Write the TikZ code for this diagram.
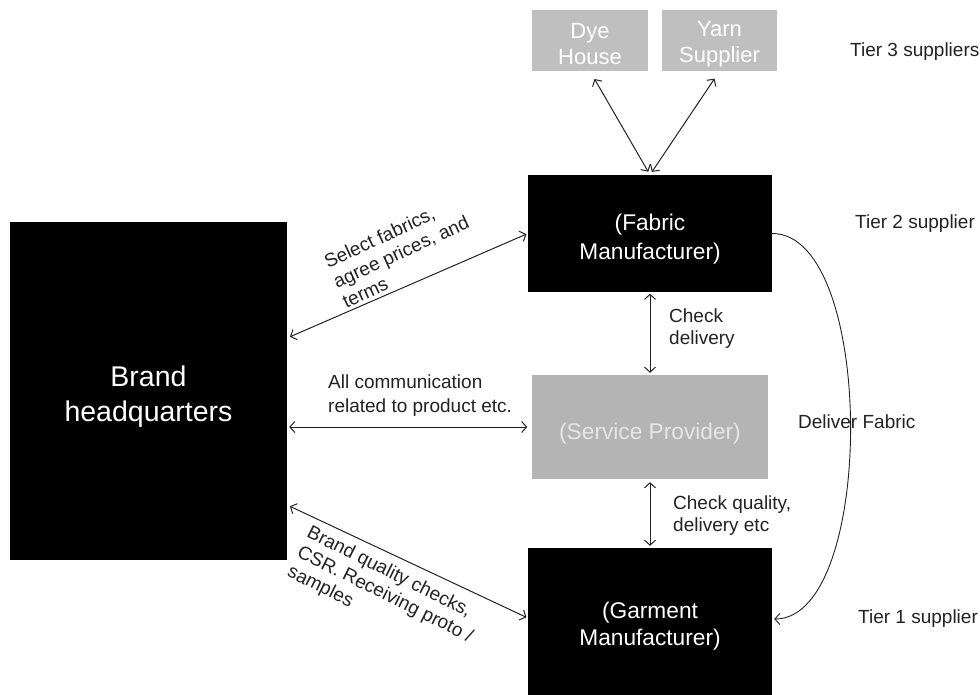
\documentclass[tikz,border=0pt]{standalone}
\usepackage{fontspec}
\setmainfont{Liberation Sans}
\usetikzlibrary{arrows.meta}
\definecolor{tiergray}{HTML}{BFBFBF}
\definecolor{svcgray}{HTML}{B4B4B4}
\definecolor{svctext}{HTML}{E6E6E6}
\definecolor{ink}{HTML}{222222}
\begin{document}
\begin{tikzpicture}[x=1pt,y=-1pt,
  darkbox/.style={draw=none,fill=black,inner sep=0pt},
  lightbox/.style={draw=none,fill=tiergray,inner sep=0pt},
  boxtext/.style={text=white,align=center,inner sep=0pt},
  lbl/.style={text=ink,align=left,inner sep=0pt,font=\fontsize{19}{22}\selectfont},
  tip/.tip={Straight Barb[length=5pt,width=11pt]},
  conn/.style={draw=ink,line width=1pt,tip-tip},
  oneway/.style={draw=ink,line width=0.9pt,-tip}]
\useasboundingbox (0,0) rectangle (980,695);
\clip (0,0) rectangle (980,695);

% boxes
\node[darkbox,minimum width=277pt,minimum height=338pt] (hq) at (148.5,391) {};
\node[boxtext,font=\fontsize{28.5}{35}\selectfont] (hqtxt) at (148.5,397) {Brand\\headquarters};

\node[lightbox,minimum width=116pt,minimum height=61pt] (dye) at (590,40.5) {};
\node[boxtext,font=\fontsize{22}{26}\selectfont] (dyetxt) at (590,44.5) {Dye\\House};

\node[lightbox,minimum width=115pt,minimum height=61pt] (yarn) at (719.5,40.5) {};
\node[boxtext,font=\fontsize{22}{26}\selectfont] (yarntxt) at (719.5,44.5) {Yarn\\Supplier};

\node[darkbox,minimum width=244pt,minimum height=117pt] (fab) at (650,233.5) {};
\node[boxtext,font=\fontsize{22.7}{29.5}\selectfont] (fabtxt) at (650,239) {(Fabric\\Manufacturer)};

\node[lightbox,fill=svcgray,minimum width=236pt,minimum height=104pt] (svc) at (650,427) {};
\node[boxtext,text=svctext,font=\fontsize{22.7}{27}\selectfont] (svctxt) at (650,434) {(Service Provider)};

\node[darkbox,minimum width=244pt,minimum height=150pt] (gar) at (650,623) {};
\node[boxtext,font=\fontsize{22.7}{27}\selectfont] (gartxt) at (650,626) {(Garment\\Manufacturer)};

% tier captions and arrow labels
\node[lbl,anchor=base west] (t3) at (850,57) {Tier 3 suppliers};
\node[lbl,anchor=base west] (t2) at (855,229) {Tier 2 supplier};
\node[lbl,anchor=base west] (t1) at (858,623) {Tier 1 supplier};
\node[lbl,anchor=north west] (chkdel) at (669,309) {Check\\delivery};
\node[lbl,anchor=north west] (chkq) at (673,496) {Check quality,\\delivery etc};
\node[lbl,anchor=north west,font=\fontsize{19}{23.5}\selectfont] (allcom) at (328,375) {All communication\\related to product etc.};
\node[lbl,anchor=north west,rotate=24.7] (sel) at (322,256) {Select fabrics,\\agree prices, and\\terms};
\node[lbl,anchor=north west,rotate=-26.5] (bq) at (312,524) {Brand quality checks,\\CSR. Receiving proto /\\samples};

% connectors
\draw[conn,shorten <=9pt,shorten >=3.5pt] (dye.south) -- (fab.north);
\draw[conn,shorten <=9pt,shorten >=3.5pt] (yarn.south) -- (fab.north);
\draw[conn,shorten <=3pt,shorten >=1.5pt] ([yshift=53pt]hq.east) -- (fab.west);
\draw[conn,shorten <=2pt,shorten >=4.5pt] (hq.east |- svc.west) -- (svc.west);
\draw[conn,shorten <=3pt,shorten >=1.5pt] ([yshift=-114pt]hq.east) -- ([yshift=5pt]gar.west);
\draw[conn,shorten <=1.5pt,shorten >=2pt] (fab.south) -- (svc.north);
\draw[conn,shorten <=3pt,shorten >=2pt] (svc.south) -- (gar.north);
\draw[oneway,shorten >=2pt] (fab.east) .. controls +(104,0) and +(104,0) .. ([yshift=4pt]gar.east);
\node[lbl,anchor=base west] (deliv) at (798,428) {Deliver Fabric};
\end{tikzpicture}
\end{document}
